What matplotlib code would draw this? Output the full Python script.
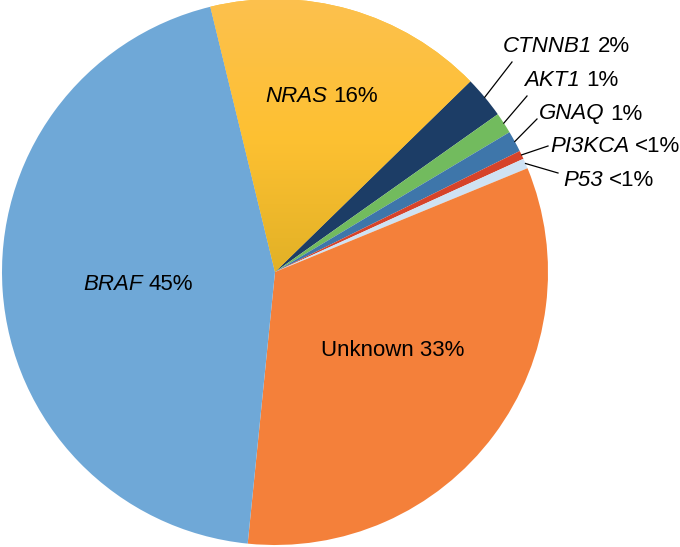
import numpy as np
import matplotlib.pyplot as plt
from matplotlib.colors import LinearSegmentedColormap

plt.rcParams['font.family'] = ['Liberation Sans', 'DejaVu Sans']

# slices, clockwise from the top (NRAS first)
genes = ['NRAS', 'CTNNB1', 'AKT1', 'GNAQ', 'PI3KCA', 'P53', 'Unknown', 'BRAF']
shares = [16.5, 2.5, 1.25, 1.25, 0.5, 0.6, 32.8, 44.6]
pct_labels = ['16%', '2%', '1%', '1%', '<1%', '<1%', '33%', '45%']
colors = ['#FDC02F', '#1C3D66', '#72BB5E', '#3E76AA', '#D6432A', '#CFE2F3', '#F4803A', '#6FA8D7']

fig = plt.figure(figsize=(6.8, 5.47), dpi=100)
W, H = 680, 547
cx, cy, r = 275, 272, 273
ax = fig.add_axes([(cx - r) / W, (H - cy - r) / H, 2 * r / W, 2 * r / H])

wedges, _ = ax.pie(shares, colors=colors, startangle=103.7, counterclock=False,
                   radius=1, wedgeprops=dict(linewidth=0))

# NRAS has a top-to-bottom gradient in the original
grad = LinearSegmentedColormap.from_list('nras', ['#E2B126', '#FEC132', '#FCC04E'])
img = ax.imshow(np.linspace(0, 1, 256).reshape(-1, 1), cmap=grad, origin='lower',
                extent=[-1, 1, 0, 1], aspect='auto', zorder=wedges[0].get_zorder())
img.set_clip_path(wedges[0])

ax.set_xlim(-1, 1)
ax.set_ylim(-1, 1)
ax.set_aspect('equal')
ax.axis('off')


def px(x, y):
    return (x - cx) / r, (cy - y) / r


fs = 16


def label(g, pct, left, y):
    x, yy = px(left, y)
    if g == 'Unknown':
        ax.text(x, yy, '%s %s' % (g, pct), ha='left', va='center', fontsize=fs)
        return
    name = ax.text(x, yy, g, ha='left', va='center', fontsize=fs, style='italic',
                   clip_on=False)
    ax.annotate(pct, xy=(1, 0.5), xycoords=name, xytext=(4.4, 0),
                textcoords='offset points', ha='left', va='center', fontsize=fs,
                annotation_clip=False)


# labels inside the big slices (left edge, middle y in pixels)
inner = {'NRAS': (265, 96), 'Unknown': (321, 351), 'BRAF': (83, 285)}
for i, g in enumerate(genes):
    if g in inner:
        label(g, pct_labels[i], *inner[g])

# outside labels for small slices: (line end, text left/middle)
outer = {
    'CTNNB1': ((512, 62), (503, 47)),
    'AKT1': ((527, 96), (524, 80)),
    'GNAQ': ((537, 119), (539, 114)),
    'PI3KCA': ((548, 146), (550, 147)),
    'P53': ((558, 173), (563, 181)),
}
for i, g in enumerate(genes):
    if g not in outer:
        continue
    w = wedges[i]
    mid = np.deg2rad((w.theta1 + w.theta2) / 2)
    x0, y0 = np.cos(mid), np.sin(mid)
    (lx, ly), (tx, ty) = outer[g]
    x1, y1 = px(lx, ly)
    ax.plot([x0, x1], [y0, y1], color='black', lw=0.9, clip_on=False)
    label(g, pct_labels[i], tx, ty)

fig.savefig('out.png', dpi=100)
